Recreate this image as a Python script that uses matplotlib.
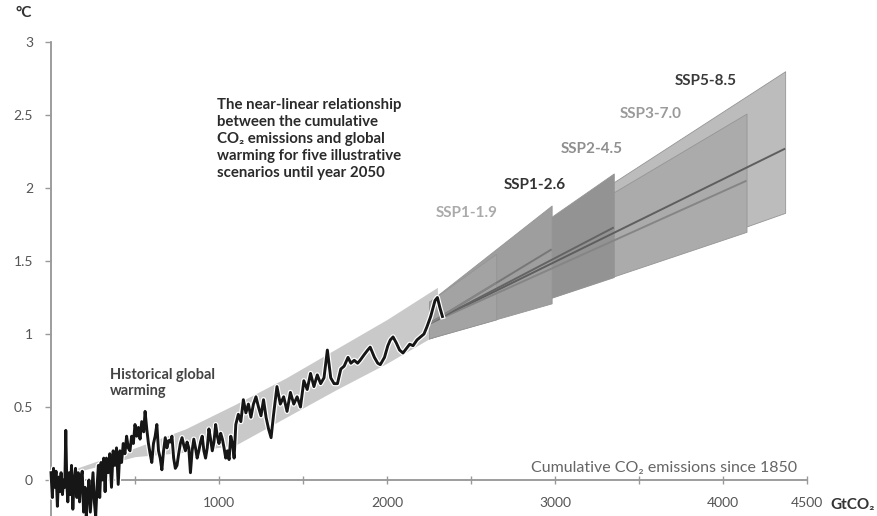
import matplotlib
matplotlib.use("Agg")
import matplotlib.pyplot as plt
import matplotlib.patheffects as pe

plt.rcParams['font.family'] = ['Lato', 'DejaVu Sans']

# ---------------- data ----------------
HIST_X = [0, 8, 15, 22, 30, 38, 45, 52, 60, 68,
          75, 82, 88, 94, 100, 108, 115, 122, 130, 138,
          146, 154, 162, 170, 178, 186, 194, 202, 210, 218,
          226, 234, 242, 250, 258, 266, 274, 282, 290, 298,
          306, 314, 322, 330, 340, 350, 360, 370, 380, 390,
          400, 410, 420, 430, 440, 450, 460, 470, 480, 490,
          500, 510, 520, 530, 540, 552, 560, 570, 580, 590,
          600, 610, 620, 630, 640, 650, 660, 670, 680, 690,
          700, 710, 720, 730, 740, 750, 760, 770, 780, 790,
          800, 810, 820, 830, 840, 850, 860, 870, 880, 890,
          900, 910, 920, 930, 940, 950, 960, 970, 980, 990,
          1000, 1010, 1020, 1030, 1040, 1050, 1060, 1070, 1080, 1090,
          1100, 1115, 1130, 1145, 1160, 1175, 1190, 1205, 1220, 1235,
          1250, 1265, 1280, 1295, 1310, 1325, 1345, 1365, 1385, 1405,
          1425, 1445, 1465, 1485, 1505, 1525, 1545, 1565, 1585, 1605,
          1625, 1645, 1665, 1685, 1705, 1725, 1745, 1768, 1785, 1805,
          1825, 1840, 1865, 1885, 1900, 1925, 1945, 1960, 1985, 2005,
          2020, 2036, 2055, 2075, 2095, 2115, 2135, 2155, 2179, 2200,
          2220, 2238, 2260, 2286, 2300, 2315, 2330]
HIST_Y = [0.05, -0.12, 0.08, -0.05, 0.06, -0.18, 0.02, -0.08, 0.05, -0.10,
          0.00, -0.05, 0.34, -0.02, -0.15, 0.05, -0.10, 0.10, -0.20, 0.00,
          0.08, -0.12, 0.05, -0.15, 0.02, 0.06, -0.22, -0.05, -0.25, -0.10,
          0.00, -0.22, -0.08, 0.05, -0.15, -0.25, -0.05, 0.10, -0.12, 0.12,
          0.00, 0.15, -0.08, 0.15, 0.05, 0.18, -0.05, 0.20, 0.10, 0.22,
          -0.03, 0.20, 0.12, 0.25, 0.18, 0.30, 0.22, 0.20, 0.30, 0.25,
          0.38, 0.30, 0.36, 0.28, 0.40, 0.33, 0.47, 0.35, 0.25, 0.18,
          0.12, 0.25, 0.30, 0.38, 0.20, 0.15, 0.07, 0.20, 0.29, 0.22,
          0.27, 0.26, 0.30, 0.15, 0.08, 0.10, 0.18, 0.25, 0.29, 0.24,
          0.20, 0.26, 0.22, 0.05, 0.20, 0.28, 0.22, 0.15, 0.20, 0.26,
          0.30, 0.20, 0.15, 0.22, 0.35, 0.28, 0.20, 0.26, 0.38, 0.30,
          0.25, 0.32, 0.28, 0.22, 0.15, 0.20, 0.14, 0.30, 0.25, 0.15,
          0.38, 0.45, 0.40, 0.55, 0.46, 0.52, 0.43, 0.52, 0.57, 0.50,
          0.44, 0.55, 0.43, 0.35, 0.29, 0.45, 0.64, 0.52, 0.57, 0.47,
          0.60, 0.52, 0.57, 0.50, 0.68, 0.62, 0.73, 0.64, 0.72, 0.66,
          0.70, 0.89, 0.70, 0.66, 0.66, 0.76, 0.78, 0.84, 0.80, 0.82,
          0.80, 0.82, 0.86, 0.89, 0.91, 0.84, 0.80, 0.79, 0.84, 0.92,
          0.96, 0.98, 0.94, 0.89, 0.87, 0.90, 0.93, 0.92, 0.96, 0.98,
          1.00, 1.05, 1.12, 1.23, 1.25, 1.18, 1.12]

HIST_BAND_X = [100, 500, 800, 1100, 1400, 1700, 2000, 2300]
HIST_BAND_LO = [0.04, 0.16, 0.19, 0.24, 0.43, 0.62, 0.80, 1.00]
HIST_BAND_HI = [0.06, 0.22, 0.35, 0.52, 0.70, 0.90, 1.10, 1.32]

SCENARIOS = ['SSP1-1.9', 'SSP1-2.6', 'SSP2-4.5', 'SSP3-7.0', 'SSP5-8.5']
SCEN_START_X = 2250
SCEN_START_LO = 0.97
SCEN_START_HI = 1.22
SCEN_START_MID = 1.07
SCEN_END_X = [2650, 2980, 3350, 4140, 4370]
SCEN_END_LO = [1.10, 1.21, 1.39, 1.70, 1.83]
SCEN_END_HI = [1.55, 1.88, 2.10, 2.51, 2.80]
SCEN_END_MID = [1.35, 1.58, 1.73, 2.05, 2.27]

# ---------------- styles ----------------
FILL_COLORS = ['#a3a3a3', '#9e9e9e', '#939393', '#ababab', '#bcbcbc']
MID_COLORS = ['#858585', '#777777', '#646464', '#858585', '#5e5e5e']
LABEL_COLORS = ['#aaaaaa', '#333333', '#8f8f8f', '#9a9a9a', '#3a3a3a']
LABEL_POS = [(2476, 1.83), (2881, 2.02), (3220, 2.27), (3571, 2.51), (3900, 2.73)]

fig = plt.figure(figsize=(8.77, 5.16), dpi=100)
ax = fig.add_axes([0, 0, 1, 1])
ax.set_xlim(-303.6, 4916.7)
ax.set_ylim(-0.2466, 3.288)
ax.set_facecolor('white')

# historical light band
ax.fill_between(HIST_BAND_X, HIST_BAND_LO, HIST_BAND_HI, color='#c9c9c9', lw=0, zorder=1)

# scenario bands (widest first)
for i in reversed(range(len(SCENARIOS))):
    xs = [SCEN_START_X, SCEN_END_X[i]]
    ax.fill_between(xs, [SCEN_START_LO, SCEN_END_LO[i]], [SCEN_START_HI, SCEN_END_HI[i]],
                    facecolor=FILL_COLORS[i], lw=0.6, edgecolor='#959595', zorder=2)
for i in reversed(range(len(SCENARIOS))):
    ax.plot([SCEN_START_X, SCEN_END_X[i]], [SCEN_START_MID, SCEN_END_MID[i]],
            color=MID_COLORS[i], lw=1.4, zorder=3, solid_capstyle='butt')

# historical line
ax.plot(HIST_X, HIST_Y, color='#161616', lw=2.1, zorder=5, clip_on=False,
        path_effects=[pe.Stroke(linewidth=3.8, foreground='white'), pe.Normal()])

# axes styling
for s in ['top', 'right']:
    ax.spines[s].set_visible(False)
ax.spines['left'].set_position(('data', 0))
ax.spines['bottom'].set_position(('data', 0))
ax.spines['left'].set_bounds(-0.25, 3.0)
ax.spines['bottom'].set_bounds(0, 4500)
for s in ['left', 'bottom']:
    ax.spines[s].set_color('#8c8c8c')
    ax.spines[s].set_linewidth(1.2)
    ax.spines[s].set_zorder(0.5)

YTICKS = [0, 0.5, 1, 1.5, 2, 2.5, 3]
YTICK_LABELS = ['0', '0.5', '1', '1.5', '2', '2.5', '3']
XTICKS = [500, 1000, 1500, 2000, 2500, 3000, 3500, 4000, 4500]
XTICK_LABELS = ['', '1000', '', '2000', '', '3000', '', '4000', '4500']
ax.set_yticks(YTICKS)
ax.set_yticklabels(YTICK_LABELS)
ax.set_xticks(XTICKS)
ax.set_xticklabels(XTICK_LABELS)
ax.tick_params(axis='y', direction='out', length=4, width=1, color='#999999',
               labelcolor='#555555', labelsize=10, pad=9)
ax.tick_params(axis='x', direction='inout', length=6, width=1, color='#999999',
               labelcolor='#555555', labelsize=10, pad=9)

# texts
ax.text(-160, 3.2, '°C', fontsize=11, fontweight='bold', color='#333333',
        ha='center', va='center')
ax.text(4640, -0.17, 'GtCO₂', fontsize=11, fontweight='bold', color='#333333',
        ha='left', va='center')
ax.text(2860, 0.085, 'Cumulative CO₂ emissions since 1850', fontsize=11.5,
        color='#666666', ha='left', va='center')
ax.text(990, 2.62, 'The near-linear relationship\nbetween the cumulative\nCO₂ emissions and global\n'
        'warming for five illustrative\nscenarios until year 2050',
        fontsize=10.8, fontweight='bold', color='#2a2a2a', ha='left', va='top',
        linespacing=1.28)
ax.text(350, 0.77, 'Historical global\nwarming', fontsize=10.5, fontweight='bold',
        color='#444444', ha='left', va='top', linespacing=1.2)

for i, name in enumerate(SCENARIOS):
    ax.text(LABEL_POS[i][0], LABEL_POS[i][1], name, fontsize=11, fontweight='bold',
            color=LABEL_COLORS[i], ha='center', va='center')

fig.savefig('out.png', dpi=100)
